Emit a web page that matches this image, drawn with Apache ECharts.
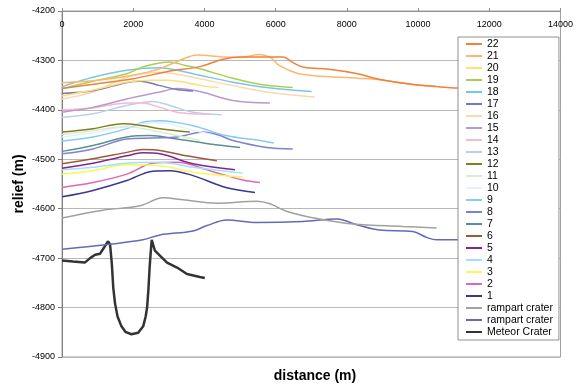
<!DOCTYPE html>
<html>
<head>
<meta charset="utf-8">
<script src="https://cdn.jsdelivr.net/npm/echarts@6/dist/echarts.min.js"></script>
<style>
  html, body { margin: 0; padding: 0; background: #fff; }
  #chart { width: 576px; height: 385px; }
</style>
</head>
<body>
<div id="chart"></div>
<script>
// profiles: [distance (m), relief (m)]
var s22 = [[0,-4357],[1000,-4347],[2000,-4337],[3000,-4322],[3900,-4312],[4500,-4298],[5000,-4293],[5800,-4293],[6200,-4293],[6500,-4305],[6800,-4314],[7500,-4318],[8300,-4327],[8900,-4338],[9800,-4348],[11100,-4356],[12500,-4362]]
var s21 = [[0,-4345],[1000,-4340],[2000,-4330],[2700,-4318],[3300,-4300],[3800,-4289],[4500,-4293],[5000,-4294],[5550,-4288],[5850,-4294],[6100,-4310],[6600,-4326],[7100,-4331],[8300,-4336],[8900,-4339],[9800,-4348],[10500,-4352]]
var s20 = [[0,-4372],[1000,-4358],[1800,-4344],[2500,-4340],[3000,-4340],[3500,-4345],[4000,-4352],[4400,-4355]]
var s19 = [[0,-4357],[870,-4342],[1820,-4327],[2270,-4313],[2750,-4305],[3030,-4303],[3400,-4309],[3870,-4317],[4800,-4336],[5560,-4348],[6480,-4355]]
var s18 = [[0,-4353],[870,-4334],[1820,-4320],[2750,-4315],[3230,-4320],[3870,-4330],[4800,-4344],[5750,-4355],[7010,-4363]]
var s17 = [[0,-4367],[900,-4361],[1800,-4345],[2200,-4342],[2750,-4351],[3230,-4359],[3680,-4362]]
var s16 = [[0,-4378],[870,-4364],[1820,-4334],[2750,-4324],[3300,-4329],[3870,-4337],[4800,-4351],[5750,-4364],[7100,-4374]]
var s15 = [[0,-4405],[870,-4395],[1820,-4378],[2750,-4364],[3230,-4357],[3870,-4363],[4800,-4381],[5840,-4386]]
var s14 = [[0,-4400],[870,-4396],[1820,-4386],[2270,-4386],[2750,-4395],[3230,-4405],[3680,-4408],[4150,-4409]]
var s13 = [[0,-4415],[870,-4408],[1820,-4391],[2550,-4383],[3030,-4391],[3680,-4405],[4480,-4410]]
var s12 = [[0,-4445],[870,-4438],[1720,-4428],[2270,-4432],[2750,-4438],[3590,-4445]]
var s11 = [[0,-4450],[870,-4442],[1820,-4434],[2750,-4445],[3870,-4462]]
var s10 = [[0,-4455],[1000,-4445],[2000,-4430],[2800,-4426],[3500,-4438],[4200,-4450]]
var s9 = [[0,-4463],[870,-4455],[1820,-4438],[2270,-4425],[2750,-4422],[3680,-4432],[4600,-4452],[5560,-4462],[5950,-4467]]
var s8 = [[0,-4489],[870,-4479],[1820,-4459],[2550,-4457],[3230,-4455],[3960,-4445],[4400,-4451],[4800,-4462],[5750,-4476],[6480,-4479]]
var s7 = [[0,-4484],[870,-4472],[1820,-4455],[2460,-4452],[3230,-4459],[4150,-4469],[5000,-4476]]
var s6 = [[0,-4509],[870,-4499],[1820,-4486],[2270,-4480],[2750,-4482],[3500,-4493],[4350,-4503]]
var s5 = [[0,-4518],[870,-4508],[1820,-4493],[2270,-4487],[2750,-4489],[3680,-4509],[4860,-4521]]
var s4 = [[0,-4521],[870,-4516],[1820,-4508],[2750,-4506],[3680,-4516],[5080,-4528]]
var s3 = [[0,-4530],[870,-4523],[1820,-4511],[2750,-4513],[3680,-4526],[5080,-4536]]
var s2 = [[0,-4557],[870,-4547],[1820,-4530],[2550,-4508],[3230,-4506],[4150,-4523],[5080,-4542],[5560,-4547]]
var s1 = [[0,-4576],[870,-4563],[1820,-4543],[2550,-4524],[3030,-4523],[3680,-4533],[4600,-4557],[5420,-4567]]
var rampartA = [[0,-4619],[1150,-4603],[2190,-4594],[2840,-4578],[3400,-4582],[4350,-4589],[5470,-4585],[5840,-4590],[6300,-4605],[7240,-4621],[8170,-4631],[9570,-4636],[10520,-4639]]
var rampartB = [[0,-4682],[1350,-4672],[2270,-4663],[2750,-4653],[3680,-4645],[4070,-4634],[4630,-4623],[5470,-4628],[6760,-4626],[7720,-4621],[7890,-4623],[8360,-4634],[8920,-4643],[9850,-4646],[10240,-4658],[10520,-4663],[11110,-4663],[12500,-4665]]
var meteor = [[0,-4705],[310,-4707],[640,-4709],[790,-4700],[930,-4693],[1070,-4691],[1150,-4682],[1290,-4666],[1350,-4672],[1400,-4712],[1440,-4760],[1490,-4792],[1560,-4818],[1670,-4838],[1780,-4849],[1950,-4854],[2140,-4851],[2280,-4838],[2350,-4818],[2390,-4800],[2430,-4760],[2460,-4720],[2490,-4690],[2520,-4663],[2610,-4685],[2750,-4695],[2950,-4709],[3230,-4719],[3510,-4732],[3870,-4738],[4010,-4740]]

// legend order, top to bottom (second rampart name has a trailing space so the legend keeps both)
var names = ['22','21','20','19','18','17','16','15','14','13','12','11','10','9','8','7','6','5','4','3','2','1','rampart crater','rampart crater ','Meteor Crater']
var profiles = [s22,s21,s20,s19,s18,s17,s16,s15,s14,s13,s12,s11,s10,s9,s8,s7,s6,s5,s4,s3,s2,s1,rampartA,rampartB,meteor]

var colors = ['#F0803C','#F8B870','#FFE070','#A8D050','#78C8E0','#7878C0','#FCD8B0','#B898D0','#F8B8D0','#B8D0F0',
  '#808020','#D8ECD0','#E4F2FC','#88C8F8','#8080D0','#5A9090','#A05838','#802888','#A0E0F8','#F8F858',
  '#E068B0','#383890','#A0A0A0','#6868B8','#333333']

var font = 'Liberation Sans, Arial, sans-serif'
var chart = echarts.init(document.getElementById('chart'))

var series = []
for (var i = names.length - 1; i >= 0; i--) {
  var isMeteor = names[i] == 'Meteor Crater'
  series.push({
    name: names[i],
    type: 'line',
    data: profiles[i],
    showSymbol: false,
    symbol: 'none',
    smooth: isMeteor ? false : 0.35,
    color: colors[i],
    lineStyle: { width: isMeteor ? 2.5 : 1.5, color: colors[i] }
  })
}

function plain (v) { return String(v) }

var option = {
  animation: false,
  backgroundColor: '#fff',
  textStyle: { fontFamily: font },
  grid: {
    left: 62, right: 15, top: 11, bottom: 28,
    show: true, borderColor: '#a0a0a0', borderWidth: 1, backgroundColor: '#fff'
  },
  xAxis: {
    type: 'value',
    position: 'top',
    min: 0, max: 14000, interval: 2000,
    axisLine: { lineStyle: { color: '#909090' } },
    axisTick: { show: true, length: 3, lineStyle: { color: '#909090' } },
    axisLabel: { inside: true, margin: 9, fontSize: 9, color: '#000', fontFamily: font, formatter: plain },
    splitLine: { show: false }
  },
  yAxis: {
    type: 'value',
    min: -4900, max: -4200, interval: 100,
    name: 'relief (m)',
    nameLocation: 'middle',
    nameGap: 36,
    nameMoveOverlap: false,
    nameTextStyle: { fontSize: 14, fontWeight: 'bold', color: '#000', fontFamily: font },
    axisLine: { show: true, lineStyle: { color: '#808080' } },
    axisTick: { show: true, length: 4, lineStyle: { color: '#808080' } },
    axisLabel: { margin: 7, fontSize: 9, color: '#000', fontFamily: font, formatter: plain },
    splitLine: { lineStyle: { color: '#b8b8b8', width: 1 } }
  },
  legend: {
    data: names,
    orient: 'vertical',
    left: 458, top: 37,
    padding: [1, 6, 2, 8],
    itemGap: 0,
    icon: 'rect',
    itemWidth: 16, itemHeight: 2,
    backgroundColor: '#fff',
    borderColor: '#909090', borderWidth: 1,
    textStyle: { fontSize: 10.5, lineHeight: 12, color: '#000', fontFamily: font },
    formatter: function (n) { return n.trim() }
  },
  graphic: [{
    type: 'text',
    x: 315, y: 376,
    style: { text: 'distance (m)', font: 'bold 14px ' + font, fill: '#000', textAlign: 'center', textVerticalAlign: 'middle' }
  }],
  series: series
}
chart.setOption(option)
</script>
</body>
</html>
